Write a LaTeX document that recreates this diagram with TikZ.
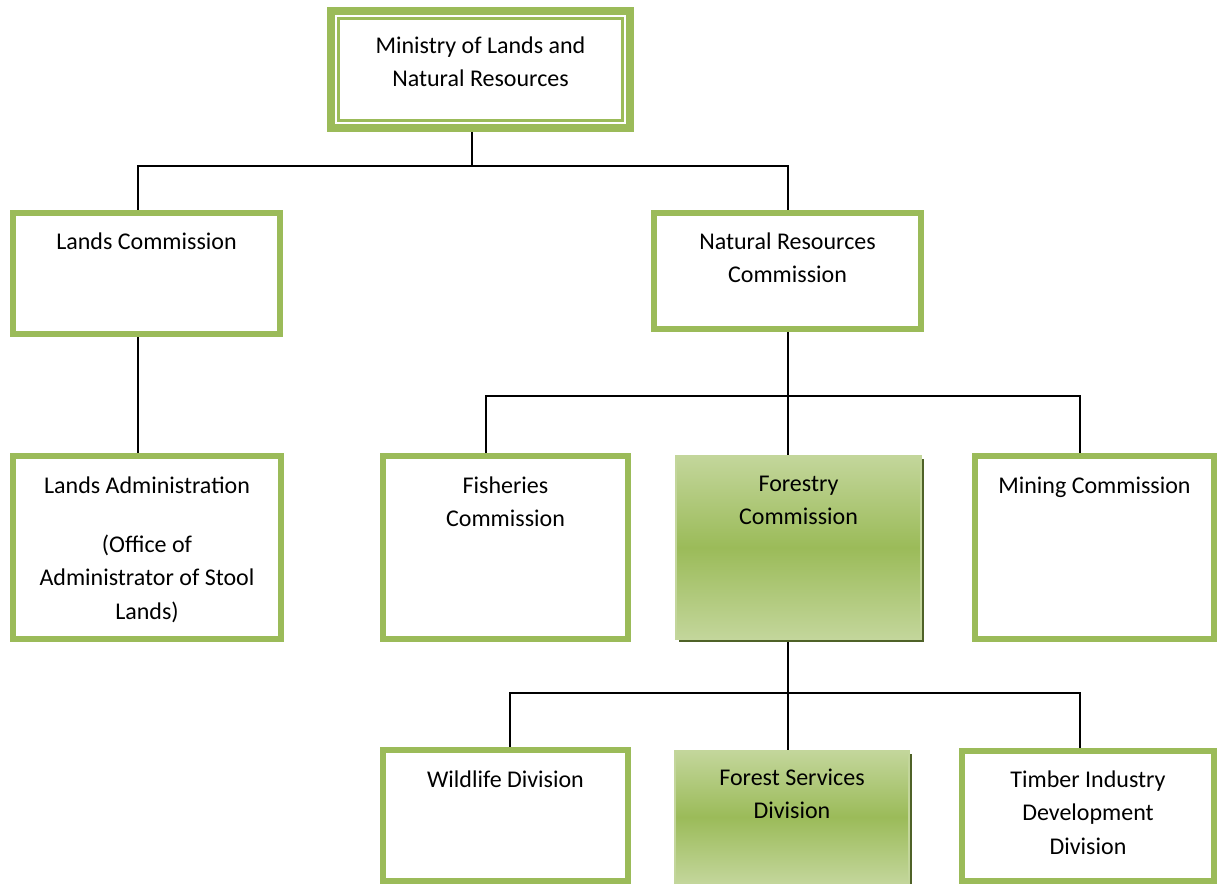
\documentclass[tikz,border=0pt]{standalone}
\usepackage{fontspec}
\setmainfont{Carlito}
\usetikzlibrary{
  shadows,
  backgrounds
}
\definecolor{accgreen}{HTML}{9BBB59}
\definecolor{palegreen}{HTML}{C3D69B}
\definecolor{shadowgreen}{HTML}{4F6228}
\newlength\pxu
\setlength\pxu{0.75pt}
\newcommand\orgfont{\fontsize{18}{25.3}\selectfont}
\newcommand\boxtext[4]{\parbox[c][#2\pxu][t]{#1\pxu}{\centering\rule{0pt}{#3\pxu}#4}}

\begin{document}
\begin{tikzpicture}[
  x=0.75pt, y=-0.75pt,
  every node/.style = {inner sep=0pt, outer sep=0pt,
    anchor=north west, font=\orgfont},
  unit/.style = {draw=accgreen, line width=6\pxu},
  ministry/.style = {draw=accgreen, line width=8\pxu},
  lead/.style = {draw=palegreen, line width=2\pxu,
    top color=palegreen, bottom color=palegreen, middle color=accgreen,
    drop shadow={shadow xshift=3\pxu, shadow yshift=-3\pxu,
      fill=shadowgreen, opacity=1}},
  link/.style = {line width=2\pxu, black}]
  \useasboundingbox (0,0) rectangle (1217,883);

  \node[ministry] (mlnr) at (331,11) {\boxtext{299}{117}{42}{Ministry of Lands and\\Natural Resources}};
  \draw[accgreen, line width=3\pxu] ([shift={(7.5,7.5)}]mlnr.north west) rectangle ([shift={(-7.5,-7.5)}]mlnr.south east);

  \node[unit] (lc) at (13,213) {\boxtext{267}{121}{36}{Lands Commission}};
  \node[unit] (nrc) at (654,213) {\boxtext{267}{116}{36}{Natural Resources\\Commission}};

  \node[unit] (la) at (13,456) {\boxtext{268}{183}{37}{Lands Administration\\[19pt](Office of\\Administrator of Stool\\Lands)}};
  \node[unit] (fc) at (383,456) {\boxtext{245}{183}{37}{Fisheries\\Commission}};
  \node[lead] (for) at (676,456) {\boxtext{245}{183}{35}{Forestry\\Commission}};
  \node[unit] (mc) at (975,456) {\boxtext{239}{183}{37}{Mining Commission}};

  \node[unit] (wd) at (383,750) {\boxtext{245}{131}{37}{Wildlife Division}};
  \node[lead] (fsd) at (675,751) {\boxtext{234}{132}{34}{Forest Services\\Division}};
  \node[unit] (tidd) at (962,751) {\boxtext{252}{130}{36}{Timber Industry\\Development\\Division}};

  \coordinate (j1) at (472,166);
  \coordinate (b1l) at (138,166);
  \coordinate (b1r) at (788,166);
  \coordinate (b2l) at (486,396);
  \coordinate (b2c) at (788,396);
  \coordinate (b2r) at (1080,396);
  \coordinate (b3l) at (510,693);
  \coordinate (b3c) at (788,693);
  \coordinate (b3r) at (1080,693);

  \begin{pgfonlayer}{background}
    \draw[link] (mlnr.south -| j1) -- (j1);
    \draw[link] (lc.north -| b1l) -- (b1l) -- (b1r) -- (nrc.north -| b1r);
    \draw[link] (lc.south -| b1l) -- (la.north -| b1l);
    \draw[link] (nrc.south -| b2c) -- (for.north -| b2c);
    \draw[link] (fc.north -| b2l) -- (b2l) -- (b2r) -- (mc.north -| b2r);
    \draw[link] (for.south -| b3c) -- (fsd.north -| b3c);
    \draw[link] (wd.north -| b3l) -- (b3l) -- (b3r) -- (tidd.north -| b3r);
  \end{pgfonlayer}
\end{tikzpicture}
\end{document}
